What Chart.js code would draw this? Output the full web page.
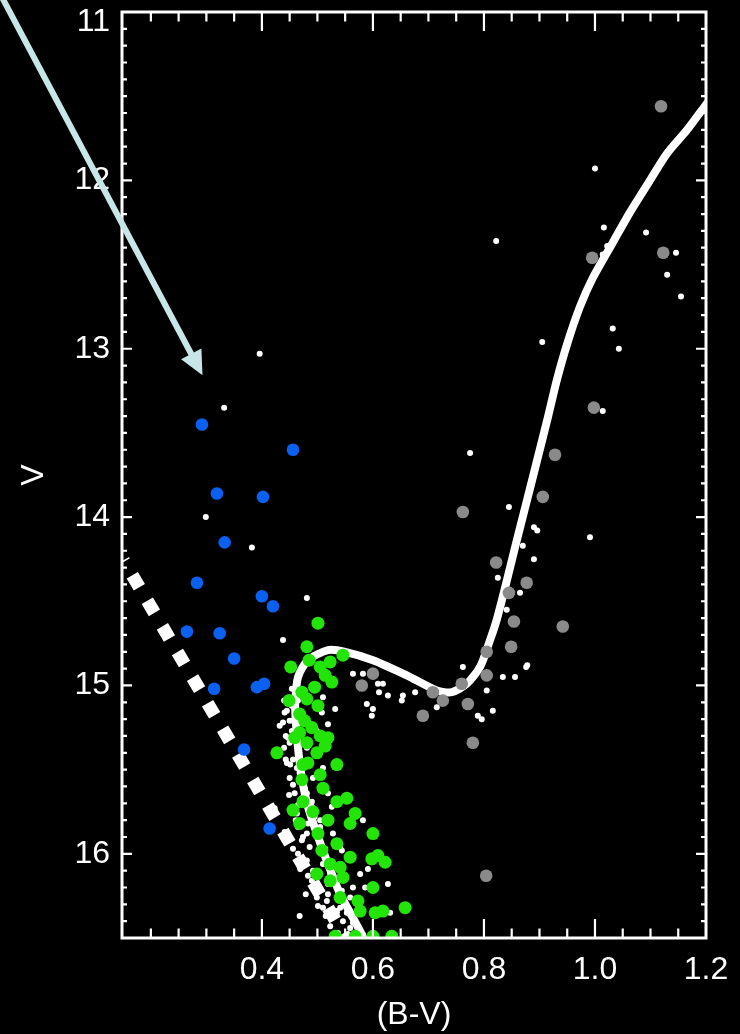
<!DOCTYPE html>
<html>
<head>
<meta charset="utf-8">
<title>Colour–magnitude diagram</title>
<script src="https://cdn.jsdelivr.net/npm/chart.js@4.4.1/dist/chart.umd.min.js"></script>
<style>
  html, body { margin: 0; padding: 0; background: #000; }
  canvas { display: block; }
</style>
</head>
<body>
<canvas id="cmd" width="740" height="1034"></canvas>
<script>
// Axis ranges and labelled ticks
const X_RANGE = [0.148, 1.2];
const Y_RANGE = [11, 16.5];
const X_TICK_LABELS = [0.4, 0.6, 0.8, 1.0, 1.2];
const Y_TICK_LABELS = [11, 12, 13, 14, 15, 16];

// Blue stragglers
const BLUE_BV = [0.292, 0.456, 0.319, 0.402, 0.333, 0.283, 0.400, 0.420, 0.265, 0.324, 0.350, 0.314, 0.391, 0.404, 0.368, 0.414];
const BLUE_V  = [13.45, 13.60, 13.86, 13.88, 14.15, 14.39, 14.47, 14.53, 14.68, 14.69, 14.84, 15.02, 15.01, 14.99, 15.38, 15.85];

// Giants and subgiants (grey)
const GREY_BV = [1.119, 0.995, 1.123, 0.998, 0.928, 0.762, 0.906, 0.822, 0.877, 0.845, 0.854, 0.942, 0.849, 0.805, 0.805, 0.580, 0.600, 0.708, 0.726, 0.760, 0.771, 0.690, 0.780, 0.804];
const GREY_V  = [11.56, 12.46, 12.43, 13.35, 13.63, 13.97, 13.88, 14.27, 14.39, 14.45, 14.62, 14.65, 14.77, 14.80, 14.94, 15.00, 14.93, 15.04, 15.09, 14.99, 15.11, 15.18, 15.34, 16.13];

// Main-sequence members (green)
const GREEN_BV = [0.501, 0.481, 0.485, 0.452, 0.505, 0.523, 0.546, 0.514, 0.526, 0.495, 0.472, 0.481, 0.449, 0.501, 0.468, 0.477,
                  0.490, 0.468, 0.459, 0.505, 0.519, 0.514, 0.481, 0.499, 0.427, 0.483, 0.535, 0.474, 0.505, 0.472, 0.510, 0.474,
                  0.456, 0.492, 0.535, 0.553, 0.519, 0.568, 0.559, 0.468, 0.501, 0.535, 0.600, 0.508, 0.559, 0.598, 0.609, 0.622,
                  0.523, 0.541, 0.499, 0.523, 0.546, 0.600, 0.541, 0.573, 0.577, 0.604, 0.618, 0.658, 0.532, 0.568, 0.600, 0.634];
const GREEN_V  = [14.63, 14.77, 14.85, 14.89, 14.89, 14.86, 14.82, 14.94, 14.98, 15.01, 15.04, 15.08, 15.09, 15.12, 15.17, 15.21,
                  15.25, 15.28, 15.31, 15.30, 15.31, 15.36, 15.34, 15.40, 15.40, 15.46, 15.47, 15.47, 15.53, 15.56, 15.61, 15.69,
                  15.74, 15.75, 15.69, 15.67, 15.80, 15.76, 15.82, 15.82, 15.88, 15.94, 15.88, 15.98, 16.02, 16.03, 16.01, 16.05,
                  16.06, 16.08, 16.12, 16.16, 16.14, 16.20, 16.26, 16.28, 16.34, 16.35, 16.34, 16.32, 16.49, 16.49, 16.49, 16.49];

// Field / photometric sample (small white)
const FIELD_BV = [0.396, 0.332, 0.299, 0.382, 0.481, 0.438, 0.432, 0.443, 0.822, 1.000, 1.016, 1.022, 1.014, 1.092, 1.146, 1.130,
                  1.155, 1.032, 1.043, 1.014, 0.905, 0.775, 0.845, 0.890, 0.896, 0.991, 0.870, 0.890, 0.825, 0.865, 0.841, 0.762,
                  0.876, 0.834, 0.856, 0.564, 0.582, 0.609, 0.618, 0.611, 0.627, 0.589, 0.600, 0.598, 0.654, 0.652, 0.676, 0.715,
                  0.805, 0.816, 0.789, 0.796, 0.878, 0.468, 0.627, 0.631,
                  0.510, 0.532, 0.508, 0.519, 0.499, 0.447, 0.456, 0.481, 0.510, 0.519, 0.490, 0.483, 0.456, 0.465, 0.481, 0.514,
                  0.528, 0.582, 0.591, 0.490, 0.501, 0.517, 0.535, 0.546, 0.559, 0.568, 0.523, 0.499, 0.564, 0.477, 0.492, 0.468,
                  0.510, 0.505, 0.481, 0.459, 0.463, 0.526, 0.541, 0.577, 0.544, 0.508, 0.450, 0.456, 0.445, 0.472, 0.423, 0.441,
                  0.474, 0.492, 0.492, 0.519, 0.510, 0.535, 0.582, 0.586, 0.535, 0.559, 0.544, 0.454, 0.465, 0.441, 0.450,
                  0.450, 0.454, 0.463, 0.472, 0.481, 0.490, 0.495, 0.505, 0.465, 0.474, 0.486, 0.510, 0.519, 0.535, 0.541, 0.553, 0.564,
                  0.440, 0.445, 0.438, 0.443, 0.440, 0.451, 0.456, 0.449, 0.465, 0.461, 0.472, 0.469, 0.483, 0.479, 0.501, 0.515,
                  0.523, 0.537, 0.550, 0.454];
const FIELD_V  = [13.03, 13.35, 14.00, 14.18, 14.48, 14.73, 15.24, 15.44, 12.36, 11.93, 12.28, 12.39, 12.44, 12.31, 12.43, 12.56,
                  12.69, 12.88, 13.00, 13.37, 12.96, 13.62, 13.94, 14.06, 14.08, 14.12, 14.17, 14.25, 14.36, 14.45, 14.55, 14.89,
                  14.89, 14.95, 14.95, 14.93, 14.93, 14.99, 14.99, 15.04, 15.06, 15.11, 15.14, 15.18, 15.06, 15.09, 15.04, 15.13,
                  15.03, 15.15, 15.18, 15.20, 14.88, 16.37, 16.18, 16.35,
                  15.07, 15.14, 15.16, 15.23, 15.27, 15.31, 15.44, 15.37, 15.49, 15.64, 15.69, 15.82, 15.97, 16.00, 16.04, 15.97,
                  15.88, 15.80, 16.09, 16.16, 16.22, 16.28, 16.34, 16.40, 16.44, 16.48, 16.12, 16.26, 16.20, 15.61, 15.55, 15.52,
                  15.37, 15.80, 15.88, 15.64, 15.76, 15.72, 15.96, 16.12, 16.22, 16.00, 15.55, 15.21, 15.46, 15.67, 15.73, 15.87,
                  16.04, 16.10, 16.20, 16.24, 16.32, 16.35, 16.48, 16.20, 16.16, 16.26, 15.98, 15.12, 15.09, 15.16, 15.34,
                  15.21, 15.27, 15.49, 15.55, 15.64, 15.72, 15.78, 15.84, 15.84, 15.90, 15.96, 16.06, 16.18, 16.26, 16.32, 16.35, 16.41,
                  15.09, 15.15, 15.22, 15.30, 15.37, 15.47, 15.59, 15.65, 15.71, 15.80, 15.92, 16.09, 16.13, 16.24, 16.31, 16.37,
                  16.43, 16.47, 16.50, 15.02];

// Isochrone, from the lower main sequence up the giant branch
const ISO_BV = [0.586, 0.580, 0.559, 0.541, 0.519, 0.499, 0.483, 0.472, 0.465, 0.461, 0.460, 0.465, 0.483, 0.519, 0.550, 0.600,
                0.661, 0.715, 0.742, 0.769, 0.793, 0.811, 0.823, 0.838, 0.856, 0.876, 0.896, 0.915, 0.931, 0.950, 0.973, 0.996,
                1.032, 1.063, 1.099, 1.130, 1.166, 1.200, 1.216];
const ISO_V  = [16.53, 16.48, 16.35, 16.24, 16.06, 15.88, 15.72, 15.55, 15.37, 15.21, 15.11, 14.95, 14.85, 14.79, 14.80, 14.85,
                14.94, 15.03, 15.04, 14.99, 14.89, 14.73, 14.61, 14.42, 14.18, 13.92, 13.66, 13.41, 13.19, 12.97, 12.75, 12.58,
                12.37, 12.19, 12.00, 11.84, 11.70, 11.55, 11.48];

// Zero-age main sequence (dashed)
const ZAMS_BV = [0.1506, 0.5514];
const ZAMS_V  = [14.256, 16.502];

// Pointer toward the brightest blue straggler
const POINTER_FROM = [-0.075, 10.87];
const POINTER_TO   = [0.293, 13.157];

const pts = (bv, v) => bv.map((x, i) => ({ x, y: v[i] }));

const FONT = '"Liberation Sans", Arial, Helvetica, sans-serif';
Chart.defaults.font.family = FONT;

const background = {
  id: 'background',
  beforeDraw(chart) {
    const { ctx, width, height } = chart;
    ctx.save();
    ctx.fillStyle = '#000';
    ctx.fillRect(0, 0, width, height);
    ctx.restore();
  }
};

// Box frame with inward-pointing major/minor ticks on all four sides
const frame = {
  id: 'frame',
  afterDatasetsDraw(chart) {
    const { ctx, chartArea: a, scales: { x, y } } = chart;
    ctx.save();
    ctx.strokeStyle = '#fff';
    ctx.lineCap = 'butt';
    ctx.lineWidth = 2.2;
    ctx.beginPath();
    for (let i = 4; i <= 24; i++) {
      const v = i * 0.05;
      if (v < X_RANGE[0] || v > X_RANGE[1]) continue;
      const px = x.getPixelForValue(v);
      const len = (i % 4 === 0 && i >= 8) ? 19 : 9.5;
      ctx.moveTo(px, a.bottom); ctx.lineTo(px, a.bottom - len);
      ctx.moveTo(px, a.top);    ctx.lineTo(px, a.top + len);
    }
    for (let i = 110; i <= 165; i++) {
      const py = y.getPixelForValue(i / 10);
      const len = (i % 10 === 0) ? 10 : 5;
      ctx.moveTo(a.left, py);  ctx.lineTo(a.left + len, py);
      ctx.moveTo(a.right, py); ctx.lineTo(a.right - len, py);
    }
    ctx.stroke();
    ctx.lineWidth = 3;
    ctx.strokeRect(a.left, a.top, a.right - a.left, a.bottom - a.top);
    ctx.restore();
  },
  afterDraw(chart) {
    const { ctx, scales: { x, y } } = chart;
    const x0 = x.getPixelForValue(POINTER_FROM[0]), y0 = y.getPixelForValue(POINTER_FROM[1]);
    const x1 = x.getPixelForValue(POINTER_TO[0]),   y1 = y.getPixelForValue(POINTER_TO[1]);
    const ang = Math.atan2(y1 - y0, x1 - x0);
    const headLen = 24, headHalf = 11.5;
    const bx = x1 - headLen * Math.cos(ang), by = y1 - headLen * Math.sin(ang);
    const nx = -Math.sin(ang), ny = Math.cos(ang);
    ctx.save();
    ctx.strokeStyle = '#c6e6e8';
    ctx.fillStyle = '#c6e6e8';
    ctx.lineWidth = 6;
    ctx.lineCap = 'butt';
    ctx.beginPath();
    ctx.moveTo(x0, y0);
    ctx.lineTo(bx + 2 * Math.cos(ang), by + 2 * Math.sin(ang));
    ctx.stroke();
    ctx.beginPath();
    ctx.moveTo(x1, y1);
    ctx.lineTo(bx + headHalf * nx, by + headHalf * ny);
    ctx.lineTo(bx - headHalf * nx, by - headHalf * ny);
    ctx.closePath();
    ctx.fill();
    ctx.restore();
  }
};

const markerSet = (data, color, r, order) => ({
  data, order, clip: 0,
  pointRadius: r, pointHoverRadius: r,
  pointBackgroundColor: color, pointBorderWidth: 0, pointBorderColor: color,
  showLine: false
});

new Chart(document.getElementById('cmd'), {
  type: 'scatter',
  data: {
    datasets: [
      markerSet(pts(BLUE_BV, BLUE_V), '#0a60f0', 6.3, 1),
      markerSet(pts(GREEN_BV, GREEN_V), '#22e406', 6.5, 2),
      markerSet(pts(GREY_BV, GREY_V), '#8a8a8a', 6.3, 3),
      {
        data: pts(ISO_BV, ISO_V), order: 4, clip: 0,
        showLine: true, borderColor: '#ffffff', borderWidth: 8, tension: 0.25,
        borderCapStyle: 'round', borderJoinStyle: 'round', pointRadius: 0, pointHoverRadius: 0
      },
      markerSet(pts(FIELD_BV, FIELD_V), '#ffffff', 3, 5),
      {
        data: pts(ZAMS_BV, ZAMS_V), order: 6, clip: 0,
        showLine: true, borderColor: '#ffffff', borderWidth: 13,
        borderDash: [14, 15.7], borderDashOffset: 12.3, borderCapStyle: 'butt',
        pointRadius: 0, pointHoverRadius: 0
      }
    ]
  },
  options: {
    responsive: false,
    animation: false,
    events: [],
    layout: { padding: { top: 12, right: 34, bottom: 0, left: 0 } },
    plugins: { legend: { display: false }, tooltip: { enabled: false } },
    scales: {
      x: {
        type: 'linear', min: X_RANGE[0], max: X_RANGE[1],
        grid: { display: false, drawTicks: false },
        border: { display: false },
        afterBuildTicks: s => { s.ticks = X_TICK_LABELS.map(v => ({ value: v })); },
        afterFit: s => { s.height = 96; s.paddingLeft = 0; s.paddingRight = 0; },
        ticks: {
          color: '#ffffff', padding: 13, autoSkip: false, maxRotation: 0,
          font: { size: 32 },
          callback: v => Number(v).toFixed(1)
        },
        title: {
          display: true, text: '(B-V)', color: '#ffffff',
          font: { size: 32 }, padding: { top: 0, bottom: 0 }
        }
      },
      y: {
        type: 'linear', reverse: true, min: Y_RANGE[0], max: Y_RANGE[1],
        grid: { display: false, drawTicks: false },
        border: { display: false },
        afterBuildTicks: s => { s.ticks = Y_TICK_LABELS.map(v => ({ value: v })); },
        afterFit: s => { s.width = 122; s.paddingTop = 0; s.paddingBottom = 0; },
        ticks: {
          color: '#ffffff', padding: 12, autoSkip: false,
          font: { size: 32, lineHeight: 0.625 },
          // the top label sits just inside the canvas, below its tick
          callback: v => (v === Y_RANGE[0] ? ['', String(v)] : String(v))
        },
        title: {
          display: true, text: 'V', color: '#ffffff',
          font: { size: 32 }, padding: { top: 15, bottom: 0 }
        }
      }
    }
  },
  plugins: [background, frame]
});
</script>
</body>
</html>
